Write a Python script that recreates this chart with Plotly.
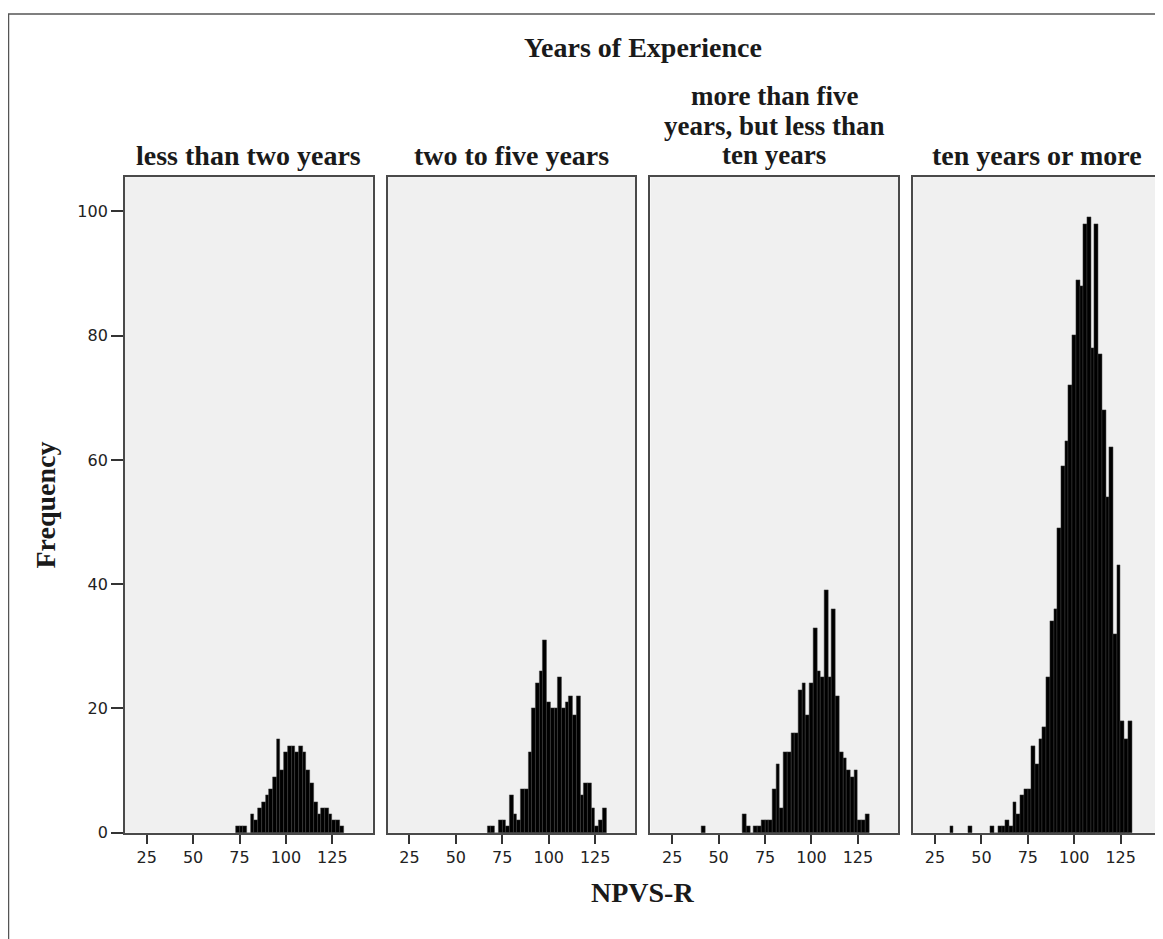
import plotly.graph_objects as go

# ---------------- data (bin centres, bin width 2) ----------------
group_names = ["less than two years", "two to five years",
               "more than five years, but less than ten years", "ten years or more"]

bins_lt2 = [74, 76, 78, 80, 82, 84, 86, 88, 90, 92, 94, 96, 98, 100, 102, 104, 106,
            108, 110, 112, 114, 116, 118, 120, 122, 124, 126, 128, 130]
counts_lt2 = [1, 1, 1, 0, 3, 2, 4, 5, 6, 7, 9, 15, 10, 13, 14, 14, 13,
              14, 13, 10, 8, 5, 3, 4, 4, 3, 2, 2, 1]

bins_2to5 = [68, 70, 72, 74, 76, 78, 80, 82, 84, 86, 88, 90, 92, 94, 96, 98, 100,
             102, 104, 106, 108, 110, 112, 114, 116, 118, 120, 122, 124, 126, 128, 130]
counts_2to5 = [1, 1, 0, 2, 2, 1, 6, 3, 2, 7, 7, 13, 20, 24, 26, 31, 21,
               20, 20, 25, 20, 21, 22, 19, 22, 6, 8, 8, 4, 1, 2, 4]

bins_5to10 = [42, 64, 66, 68, 70, 72, 74, 76, 78, 80, 82, 84, 86, 88, 90, 92, 94, 96,
              98, 100, 102, 104, 106, 108, 110, 112, 114, 116, 118, 120, 122, 124,
              126, 128, 130]
counts_5to10 = [1, 3, 1, 0, 1, 1, 2, 2, 2, 7, 11, 4, 13, 13, 16, 16, 23, 24,
                19, 24, 33, 26, 25, 39, 25, 36, 22, 13, 12, 10, 9, 10,
                2, 2, 3]

bins_10plus = [34, 44, 56, 58, 60, 62, 64, 66, 68, 70, 72, 74, 76, 78, 80, 82, 84, 86,
               88, 90, 92, 94, 96, 98, 100, 102, 104, 106, 108, 110, 112, 114, 116,
               118, 120, 122, 124, 126, 128, 130]
counts_10plus = [1, 1, 1, 0, 1, 1, 2, 1, 5, 3, 6, 7, 7, 14, 11, 15, 17, 25,
                 34, 36, 49, 59, 63, 72, 80, 89, 88, 98, 99, 78, 98, 77, 68,
                 54, 62, 32, 43, 18, 15, 18]

x_tick_vals = [25, 50, 75, 100, 125]
y_tick_vals = [0, 20, 40, 60, 80, 100]

panels = [(bins_lt2, counts_lt2), (bins_2to5, counts_2to5),
          (bins_5to10, counts_5to10), (bins_10plus, counts_10plus)]

# ---------------- layout geometry ----------------
# the page body has an 8px margin, so the figure is offset by 8px
OFF = 8
W, H = 1163 - OFF, 939 - OFF
panel_left_px = [125, 388, 651, 914]
panel_w_px = 248
plot_top_px, plot_bottom_px = 179, 841.7

def px_x(x):
    return (x - OFF) / W

def px_y(y):
    return 1 - (y - OFF) / H

SERIF = "Liberation Serif, Times New Roman, serif"
TITLE_FONT = dict(family=SERIF, size=28, color="#1a1a1a")
WRAP_FONT = dict(family=SERIF, size=27, color="#1a1a1a")
TICK_FONT = dict(family="DejaVu Sans, Verdana, sans-serif", size=16, color="#222222")

fig = go.Figure()
layout = dict(
    width=W, height=H, autosize=False,
    margin=dict(l=0, r=0, t=0, b=0),
    paper_bgcolor="white", plot_bgcolor="#F0F0F0",
    showlegend=False, bargap=0,
)

for i, (bins, counts) in enumerate(panels):
    k = "" if i == 0 else str(i + 1)
    fig.add_trace(go.Bar(
        x=bins, y=counts, width=2,
        marker=dict(color="black", line=dict(color="#3c3c3c", width=0.5)),
        xaxis="x" + k, yaxis="y" + k, hoverinfo="x+y",
    ))
    x0 = panel_left_px[i]
    layout["xaxis" + k] = dict(
        domain=[px_x(x0), px_x(x0 + panel_w_px)],
        range=[13.3, 146.7], anchor="y" + k,
        tickmode="array", tickvals=x_tick_vals,
        ticks="outside", ticklen=9, tickwidth=1.5, tickcolor="#333333",
        tickfont=TICK_FONT,
        showline=True, mirror=True, linecolor="#4a4a4a", linewidth=1.6,
        showgrid=False, zeroline=False, fixedrange=True,
    )
    layout["yaxis" + k] = dict(
        domain=[px_y(plot_bottom_px), px_y(plot_top_px)],
        range=[0, 105.5], anchor="x" + k,
        tickmode="array", tickvals=y_tick_vals,
        ticks="outside" if i == 0 else "", ticklen=12, tickwidth=1.5,
        tickcolor="#333333",
        showticklabels=(i == 0), tickfont=TICK_FONT,
        showline=True, mirror=True, linecolor="#4a4a4a", linewidth=1.6,
        showgrid=False, zeroline=False, fixedrange=True,
    )

annotations = []
def add_text(text, x_px, y_px, angle=0, font=TITLE_FONT):
    annotations.append(dict(
        text="<b>%s</b>" % text, x=px_x(x_px), y=px_y(y_px),
        xref="paper", yref="paper", xanchor="center", yanchor="middle",
        showarrow=False, font=font, textangle=angle,
    ))

add_text("Years of Experience", 643.5, 48)
centres = [x + panel_w_px / 2 for x in panel_left_px]
add_text(group_names[0], centres[0], 157)
add_text(group_names[1], centres[1], 157)
add_text("more than five", centres[2], 97, font=WRAP_FONT)
add_text("years, but less than", centres[2], 127, font=WRAP_FONT)
add_text("ten years", centres[2], 157, font=WRAP_FONT)
add_text(group_names[3], centres[3], 157)
add_text("Frequency", 46, 510, angle=-90)
add_text("NPVS-R", 643.5, 902)
layout["annotations"] = annotations

layout["shapes"] = [dict(
    type="rect", xref="paper", yref="paper",
    x0=px_x(8.5), x1=1.05, y0=-0.05, y1=px_y(14),
    line=dict(color="#555555", width=1.5), fillcolor="rgba(0,0,0,0)",
    layer="below",
)]

fig.update_layout(**layout)
fig.write_html("out.html")
